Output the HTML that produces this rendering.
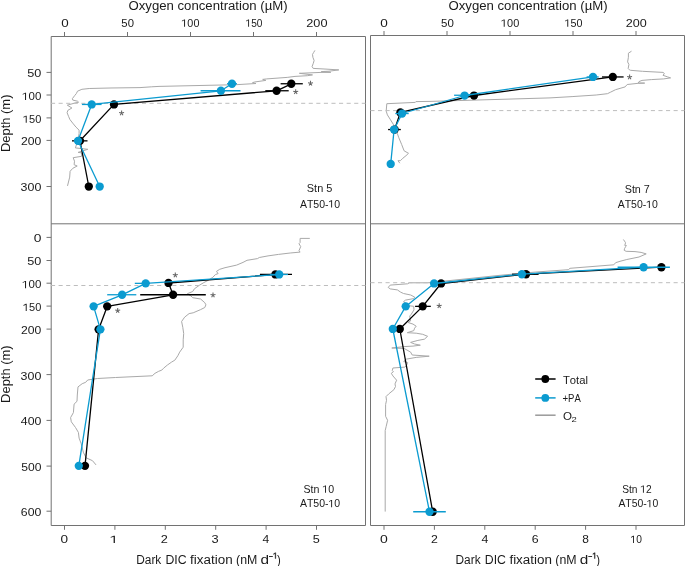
<!DOCTYPE html>
<html><head><meta charset="utf-8"><style>
html,body{margin:0;padding:0;background:#fff;}
svg{display:block;will-change:transform;}
text{font-family:"Liberation Sans", sans-serif;font-kerning:none;}
</style></head><body>
<svg width="685" height="566" viewBox="0 0 685 566">
<rect width="685" height="566" fill="#fff"/>
<path d="M51.2,36.5H365.5V525.5H51.2Z M51.2,223.8H365.5" fill="none" stroke="#727272" stroke-width="1"/>
<path d="M370.5,35.5H684.5V525.5H370.5Z M370.5,223.8H684.5" fill="none" stroke="#727272" stroke-width="1"/>
<line x1="64.50" y1="32.00" x2="64.50" y2="36.50" stroke="#727272" stroke-width="1" />
<line x1="127.50" y1="32.00" x2="127.50" y2="36.50" stroke="#727272" stroke-width="1" />
<line x1="190.50" y1="32.00" x2="190.50" y2="36.50" stroke="#727272" stroke-width="1" />
<line x1="253.50" y1="32.00" x2="253.50" y2="36.50" stroke="#727272" stroke-width="1" />
<line x1="316.50" y1="32.00" x2="316.50" y2="36.50" stroke="#727272" stroke-width="1" />
<line x1="384.00" y1="31.00" x2="384.00" y2="35.50" stroke="#727272" stroke-width="1" />
<line x1="447.00" y1="31.00" x2="447.00" y2="35.50" stroke="#727272" stroke-width="1" />
<line x1="510.00" y1="31.00" x2="510.00" y2="35.50" stroke="#727272" stroke-width="1" />
<line x1="573.00" y1="31.00" x2="573.00" y2="35.50" stroke="#727272" stroke-width="1" />
<line x1="636.00" y1="31.00" x2="636.00" y2="35.50" stroke="#727272" stroke-width="1" />
<line x1="64.50" y1="525.50" x2="64.50" y2="529.80" stroke="#727272" stroke-width="1" />
<line x1="114.90" y1="525.50" x2="114.90" y2="529.80" stroke="#727272" stroke-width="1" />
<line x1="165.30" y1="525.50" x2="165.30" y2="529.80" stroke="#727272" stroke-width="1" />
<line x1="215.70" y1="525.50" x2="215.70" y2="529.80" stroke="#727272" stroke-width="1" />
<line x1="266.10" y1="525.50" x2="266.10" y2="529.80" stroke="#727272" stroke-width="1" />
<line x1="316.50" y1="525.50" x2="316.50" y2="529.80" stroke="#727272" stroke-width="1" />
<line x1="384.00" y1="525.50" x2="384.00" y2="529.80" stroke="#727272" stroke-width="1" />
<line x1="434.40" y1="525.50" x2="434.40" y2="529.80" stroke="#727272" stroke-width="1" />
<line x1="484.80" y1="525.50" x2="484.80" y2="529.80" stroke="#727272" stroke-width="1" />
<line x1="535.20" y1="525.50" x2="535.20" y2="529.80" stroke="#727272" stroke-width="1" />
<line x1="585.60" y1="525.50" x2="585.60" y2="529.80" stroke="#727272" stroke-width="1" />
<line x1="636.00" y1="525.50" x2="636.00" y2="529.80" stroke="#727272" stroke-width="1" />
<line x1="46.50" y1="72.40" x2="51.20" y2="72.40" stroke="#727272" stroke-width="1" />
<line x1="46.50" y1="95.00" x2="51.20" y2="95.00" stroke="#727272" stroke-width="1" />
<line x1="46.50" y1="117.90" x2="51.20" y2="117.90" stroke="#727272" stroke-width="1" />
<line x1="46.50" y1="140.40" x2="51.20" y2="140.40" stroke="#727272" stroke-width="1" />
<line x1="46.50" y1="186.50" x2="51.20" y2="186.50" stroke="#727272" stroke-width="1" />
<line x1="46.50" y1="237.40" x2="51.20" y2="237.40" stroke="#727272" stroke-width="1" />
<line x1="46.50" y1="260.50" x2="51.20" y2="260.50" stroke="#727272" stroke-width="1" />
<line x1="46.50" y1="283.20" x2="51.20" y2="283.20" stroke="#727272" stroke-width="1" />
<line x1="46.50" y1="306.10" x2="51.20" y2="306.10" stroke="#727272" stroke-width="1" />
<line x1="46.50" y1="329.10" x2="51.20" y2="329.10" stroke="#727272" stroke-width="1" />
<line x1="46.50" y1="374.60" x2="51.20" y2="374.60" stroke="#727272" stroke-width="1" />
<line x1="46.50" y1="420.40" x2="51.20" y2="420.40" stroke="#727272" stroke-width="1" />
<line x1="46.50" y1="466.10" x2="51.20" y2="466.10" stroke="#727272" stroke-width="1" />
<line x1="46.50" y1="511.20" x2="51.20" y2="511.20" stroke="#727272" stroke-width="1" />
<text x="61.18" y="26.70" font-size="10.5" textLength="7.45" lengthAdjust="spacingAndGlyphs" fill="#1a1a1a" >0</text>
<text x="121.35" y="26.70" font-size="10.5" textLength="12.60" lengthAdjust="spacingAndGlyphs" fill="#1a1a1a" >50</text>
<text x="181.37" y="26.70" font-size="10.5" textLength="18.05" lengthAdjust="spacingAndGlyphs" fill="#1a1a1a" > 00</text>
<path d="M184.09,26.70 L184.09,20.36 L181.90,21.57 L181.90,20.70 L184.17,19.48 L185.05,19.48 L185.05,26.70Z" fill="#1a1a1a"/>
<text x="245.61" y="26.70" font-size="10.5" textLength="16.89" lengthAdjust="spacingAndGlyphs" fill="#1a1a1a" > 50</text>
<path d="M248.15,26.70 L248.15,20.36 L246.10,21.57 L246.10,20.70 L248.23,19.48 L249.05,19.48 L249.05,26.70Z" fill="#1a1a1a"/>
<text x="306.26" y="26.70" font-size="10.5" textLength="21.24" lengthAdjust="spacingAndGlyphs" fill="#1a1a1a" >200</text>
<text x="380.27" y="26.70" font-size="10.5" textLength="7.56" lengthAdjust="spacingAndGlyphs" fill="#1a1a1a" >0</text>
<text x="441.14" y="26.70" font-size="10.5" textLength="12.81" lengthAdjust="spacingAndGlyphs" fill="#1a1a1a" >50</text>
<text x="500.97" y="26.70" font-size="10.5" textLength="18.26" lengthAdjust="spacingAndGlyphs" fill="#1a1a1a" > 00</text>
<path d="M503.72,26.70 L503.72,20.36 L501.50,21.57 L501.50,20.70 L503.80,19.48 L504.69,19.48 L504.69,26.70Z" fill="#1a1a1a"/>
<text x="564.57" y="26.70" font-size="10.5" textLength="17.95" lengthAdjust="spacingAndGlyphs" fill="#1a1a1a" > 50</text>
<path d="M567.28,26.70 L567.28,20.36 L565.10,21.57 L565.10,20.70 L567.36,19.48 L568.23,19.48 L568.23,26.70Z" fill="#1a1a1a"/>
<text x="625.87" y="26.70" font-size="10.5" textLength="21.03" lengthAdjust="spacingAndGlyphs" fill="#1a1a1a" >200</text>
<text x="60.57" y="543.00" font-size="10.5" textLength="7.56" lengthAdjust="spacingAndGlyphs" fill="#1a1a1a" >0</text>
<path d="M113.62,543.00 L113.62,536.66 L110.70,537.87 L110.70,537.00 L113.73,535.78 L114.90,535.78 L114.90,543.00Z" fill="#1a1a1a"/>
<text x="160.66" y="543.00" font-size="10.5" textLength="7.08" lengthAdjust="spacingAndGlyphs" fill="#1a1a1a" >2</text>
<text x="211.51" y="543.00" font-size="10.5" textLength="7.16" lengthAdjust="spacingAndGlyphs" fill="#1a1a1a" >3</text>
<text x="262.52" y="543.00" font-size="10.5" textLength="6.73" lengthAdjust="spacingAndGlyphs" fill="#1a1a1a" >4</text>
<text x="312.69" y="543.00" font-size="10.5" textLength="7.04" lengthAdjust="spacingAndGlyphs" fill="#1a1a1a" >5</text>
<text x="380.05" y="543.00" font-size="10.5" textLength="7.79" lengthAdjust="spacingAndGlyphs" fill="#1a1a1a" >0</text>
<text x="430.98" y="543.00" font-size="10.5" textLength="6.84" lengthAdjust="spacingAndGlyphs" fill="#1a1a1a" >2</text>
<text x="481.52" y="543.00" font-size="10.5" textLength="6.84" lengthAdjust="spacingAndGlyphs" fill="#1a1a1a" >4</text>
<text x="531.77" y="543.00" font-size="10.5" textLength="6.87" lengthAdjust="spacingAndGlyphs" fill="#1a1a1a" >6</text>
<text x="582.28" y="543.00" font-size="10.5" textLength="6.64" lengthAdjust="spacingAndGlyphs" fill="#1a1a1a" >8</text>
<text x="630.50" y="543.00" font-size="10.5" textLength="11.40" lengthAdjust="spacingAndGlyphs" fill="#1a1a1a" > 0</text>
<path d="M633.08,543.00 L633.08,536.66 L631.00,537.87 L631.00,537.00 L633.15,535.78 L633.98,535.78 L633.98,543.00Z" fill="#1a1a1a"/>
<text x="27.29" y="77.35" font-size="10.5" textLength="14.10" lengthAdjust="spacingAndGlyphs" fill="#1a1a1a" >50</text>
<text x="22.14" y="99.95" font-size="10.5" textLength="19.21" lengthAdjust="spacingAndGlyphs" fill="#1a1a1a" > 00</text>
<path d="M25.03,99.95 L25.03,93.61 L22.70,94.82 L22.70,93.95 L25.12,92.73 L26.05,92.73 L26.05,99.95Z" fill="#1a1a1a"/>
<text x="22.96" y="122.85" font-size="10.5" textLength="18.37" lengthAdjust="spacingAndGlyphs" fill="#1a1a1a" > 50</text>
<path d="M25.73,122.85 L25.73,116.51 L23.50,117.72 L23.50,116.85 L25.81,115.63 L26.70,115.63 L26.70,122.85Z" fill="#1a1a1a"/>
<text x="21.09" y="145.35" font-size="10.5" textLength="20.29" lengthAdjust="spacingAndGlyphs" fill="#1a1a1a" >200</text>
<text x="20.63" y="191.45" font-size="10.5" textLength="20.76" lengthAdjust="spacingAndGlyphs" fill="#1a1a1a" >300</text>
<text x="33.76" y="242.35" font-size="10.5" textLength="7.68" lengthAdjust="spacingAndGlyphs" fill="#1a1a1a" >0</text>
<text x="27.29" y="265.45" font-size="10.5" textLength="14.10" lengthAdjust="spacingAndGlyphs" fill="#1a1a1a" >50</text>
<text x="22.14" y="288.15" font-size="10.5" textLength="19.21" lengthAdjust="spacingAndGlyphs" fill="#1a1a1a" > 00</text>
<path d="M25.03,288.15 L25.03,281.81 L22.70,283.02 L22.70,282.15 L25.12,280.93 L26.05,280.93 L26.05,288.15Z" fill="#1a1a1a"/>
<text x="22.96" y="311.05" font-size="10.5" textLength="18.37" lengthAdjust="spacingAndGlyphs" fill="#1a1a1a" > 50</text>
<path d="M25.73,311.05 L25.73,304.71 L23.50,305.92 L23.50,305.05 L25.81,303.83 L26.70,303.83 L26.70,311.05Z" fill="#1a1a1a"/>
<text x="21.09" y="334.05" font-size="10.5" textLength="20.29" lengthAdjust="spacingAndGlyphs" fill="#1a1a1a" >200</text>
<text x="20.63" y="379.55" font-size="10.5" textLength="20.76" lengthAdjust="spacingAndGlyphs" fill="#1a1a1a" >300</text>
<text x="20.82" y="425.35" font-size="10.5" textLength="20.56" lengthAdjust="spacingAndGlyphs" fill="#1a1a1a" >400</text>
<text x="21.22" y="471.05" font-size="10.5" textLength="20.16" lengthAdjust="spacingAndGlyphs" fill="#1a1a1a" >500</text>
<text x="20.88" y="516.15" font-size="10.5" textLength="20.50" lengthAdjust="spacingAndGlyphs" fill="#1a1a1a" >600</text>
<text x="128.48" y="9.90" font-size="12.5" textLength="159.14" lengthAdjust="spacingAndGlyphs" fill="#1a1a1a" >Oxygen concentration (µM)</text>
<text x="448.48" y="9.90" font-size="12.5" textLength="159.14" lengthAdjust="spacingAndGlyphs" fill="#1a1a1a" >Oxygen concentration (µM)</text>
<text x="136.23" y="563.50" font-size="12.5" textLength="25.06" lengthAdjust="spacingAndGlyphs" fill="#1a1a1a" >Dark</text>
<text x="165.49" y="563.50" font-size="12.5" textLength="21.18" lengthAdjust="spacingAndGlyphs" fill="#1a1a1a" >DIC</text>
<text x="190.11" y="563.50" font-size="12.5" textLength="42.56" lengthAdjust="spacingAndGlyphs" fill="#1a1a1a" >fixation</text>
<text x="236.03" y="563.50" font-size="12.5" textLength="21.28" lengthAdjust="spacingAndGlyphs" fill="#1a1a1a" >(nM</text>
<text x="260.56" y="563.50" font-size="12.5" textLength="8.53" lengthAdjust="spacingAndGlyphs" fill="#1a1a1a" >d</text>
<line x1="269.00" y1="556.50" x2="272.80" y2="556.50" stroke="#1a1a1a" stroke-width="0.9" />
<path d="M275.13,558.60 L275.13,553.47 L273.60,554.45 L273.60,553.74 L275.19,552.75 L275.80,552.75 L275.80,558.60Z" fill="#1a1a1a" stroke="#1a1a1a" stroke-width="0.35"/>
<text x="276.93" y="563.50" font-size="12.5" textLength="3.77" lengthAdjust="spacingAndGlyphs" fill="#1a1a1a" >)</text>
<text x="455.53" y="563.50" font-size="12.5" textLength="25.06" lengthAdjust="spacingAndGlyphs" fill="#1a1a1a" >Dark</text>
<text x="484.79" y="563.50" font-size="12.5" textLength="21.18" lengthAdjust="spacingAndGlyphs" fill="#1a1a1a" >DIC</text>
<text x="509.41" y="563.50" font-size="12.5" textLength="42.56" lengthAdjust="spacingAndGlyphs" fill="#1a1a1a" >fixation</text>
<text x="555.33" y="563.50" font-size="12.5" textLength="21.28" lengthAdjust="spacingAndGlyphs" fill="#1a1a1a" >(nM</text>
<text x="579.86" y="563.50" font-size="12.5" textLength="8.53" lengthAdjust="spacingAndGlyphs" fill="#1a1a1a" >d</text>
<line x1="588.30" y1="556.50" x2="592.10" y2="556.50" stroke="#1a1a1a" stroke-width="0.9" />
<path d="M594.43,558.60 L594.43,553.47 L592.90,554.45 L592.90,553.74 L594.49,552.75 L595.10,552.75 L595.10,558.60Z" fill="#1a1a1a" stroke="#1a1a1a" stroke-width="0.35"/>
<text x="596.23" y="563.50" font-size="12.5" textLength="3.77" lengthAdjust="spacingAndGlyphs" fill="#1a1a1a" >)</text>
<text transform="translate(9.6,151.05) rotate(-90)" x="-1.06" y="0" font-size="12.5" textLength="57.57" lengthAdjust="spacingAndGlyphs" fill="#1a1a1a">Depth (m)</text>
<text transform="translate(9.6,401.85) rotate(-90)" x="-1.06" y="0" font-size="12.5" textLength="57.57" lengthAdjust="spacingAndGlyphs" fill="#1a1a1a">Depth (m)</text>
<text x="306.80" y="192.40" font-size="10.5" textLength="25.56" lengthAdjust="spacingAndGlyphs" fill="#1a1a1a" >Stn 5</text>
<text x="299.88" y="207.50" font-size="10.5" textLength="40.33" lengthAdjust="spacingAndGlyphs" fill="#1a1a1a" >AT50- 0</text>
<path d="M331.16,207.50 L331.16,201.16 L329.03,202.37 L329.03,201.50 L331.24,200.28 L332.09,200.28 L332.09,207.50Z" fill="#1a1a1a"/>
<text x="624.71" y="192.90" font-size="10.5" textLength="25.13" lengthAdjust="spacingAndGlyphs" fill="#1a1a1a" >Stn 7</text>
<text x="617.68" y="208.00" font-size="10.5" textLength="40.23" lengthAdjust="spacingAndGlyphs" fill="#1a1a1a" >AT50- 0</text>
<path d="M648.88,208.00 L648.88,201.66 L646.75,202.87 L646.75,202.00 L648.96,200.78 L649.81,200.78 L649.81,208.00Z" fill="#1a1a1a"/>
<text x="303.52" y="492.70" font-size="10.5" textLength="30.70" lengthAdjust="spacingAndGlyphs" fill="#1a1a1a" >Stn  0</text>
<path d="M325.07,492.70 L325.07,486.36 L322.92,487.57 L322.92,486.70 L325.15,485.48 L326.01,485.48 L326.01,492.70Z" fill="#1a1a1a"/>
<text x="299.88" y="507.20" font-size="10.5" textLength="40.33" lengthAdjust="spacingAndGlyphs" fill="#1a1a1a" >AT50- 0</text>
<path d="M331.16,507.20 L331.16,500.86 L329.03,502.07 L329.03,501.20 L331.24,499.98 L332.09,499.98 L332.09,507.20Z" fill="#1a1a1a"/>
<text x="622.24" y="492.70" font-size="10.5" textLength="29.48" lengthAdjust="spacingAndGlyphs" fill="#1a1a1a" >Stn  2</text>
<path d="M642.94,492.70 L642.94,486.36 L640.87,487.57 L640.87,486.70 L643.01,485.48 L643.84,485.48 L643.84,492.70Z" fill="#1a1a1a"/>
<text x="618.38" y="507.20" font-size="10.5" textLength="40.03" lengthAdjust="spacingAndGlyphs" fill="#1a1a1a" >AT50- 0</text>
<path d="M649.42,507.20 L649.42,500.86 L647.31,502.07 L647.31,501.20 L649.50,499.98 L650.35,499.98 L650.35,507.20Z" fill="#1a1a1a"/>
<polyline points="314.9,50.4 313.7,52.4 312.5,54.4 312.9,57.3 314.1,60.5 313.3,63.3 312.1,66.5 313.2,68.4 326.0,69.1 338.8,69.9 329.0,71.2 321.3,71.6 330.8,72.3 321.0,72.4 299.4,73.3 312.5,74.9 307.4,75.7 295.0,76.4 287.2,77.4 266.8,78.9 262.7,79.4 265.8,80.4 254.5,82.0 252.5,82.7 256.0,83.5 236.1,84.7 159.0,86.4 151.7,86.8 140.0,87.6 110.0,88.0 89.2,88.5 81.9,89.3 77.5,91.2 76.4,93.5 74.6,95.7 72.4,98.6 72.8,100.1 77.5,101.2 78.6,102.2 74.6,103.1 67.3,105.2 71.9,108.0 67.9,110.3 67.1,112.7 68.7,116.7 69.9,119.5 72.7,123.1 75.9,127.0 79.1,130.2 79.1,133.4 78.0,140.0 75.4,147.9 87.8,149.3 78.1,152.4 81.6,152.8 81.6,156.3 73.2,157.7 74.5,161.2 74.1,164.7 77.2,166.0 72.8,168.3 70.1,171.3 69.7,177.1 67.5,185.9" fill="none" stroke="#a9a9a9" stroke-width="1" stroke-linejoin="round" />
<polyline points="631.5,51.2 628.4,53.2 628.4,57.3 627.6,61.9 628.9,64.4 628.2,68.5 629.4,69.8 630.5,70.3 642.5,71.3 663.0,72.4 664.4,73.5 663.0,75.3 667.3,76.8 670.6,77.9 663.7,78.9 651.3,79.6 642.0,80.4 639.0,81.6 638.2,83.0 644.7,83.1 638.2,83.3 627.2,84.5 625.1,86.9 615.5,89.7 610.7,92.1 607.4,93.7 596.2,95.0 572.1,96.6 550.0,97.9 430.0,101.4 415.9,101.6 415.3,102.4 386.8,103.7 386.2,111.1 387.4,114.9 390.5,119.8 393.6,124.8 397.3,133.4 398.6,137.2 401.7,144.6 404.1,150.8 408.5,153.3 406.0,155.7 402.9,158.2 400.4,160.7 398.0,160.7 399.8,163.2" fill="none" stroke="#a9a9a9" stroke-width="1" stroke-linejoin="round" />
<polyline points="309.8,238.4 300.1,238.4 300.1,242.5 299.0,243.7 300.7,246.6 299.0,250.7 300.1,252.1 290.2,253.0 278.5,254.4 268.0,255.9 259.3,257.5 257.5,258.6 247.0,260.3 243.0,262.4 236.6,265.1 225.0,267.7 219.7,269.3 216.5,271.4 218.1,273.6 215.4,274.6 212.8,277.3 208.0,280.4 203.8,282.6 199.5,285.2 194.4,288.8 192.7,291.5 187.4,293.7 190.9,295.9 192.7,297.7 200.6,299.0 204.8,302.7 205.9,304.8 204.8,307.5 200.6,309.6 193.2,312.8 189.1,313.6 184.7,317.1 181.6,321.5 182.8,327.4 183.7,333.6 183.2,339.8 183.2,347.2 179.7,352.1 177.8,355.8 174.8,360.2 171.7,362.0 167.3,365.1 163.6,368.2 161.8,370.1 158.7,371.3 155.0,373.3 152.2,375.8 115.5,377.5 97.4,378.5 87.7,380.0 85.7,382.3 82.2,383.7 78.0,386.9 77.3,395.0 77.0,401.3 74.1,404.1 73.4,412.6 70.6,417.6 71.3,421.8 75.5,427.5 78.4,432.4 79.1,438.1 81.2,443.7 83.3,452.2 86.1,457.8 92.5,460.7 96.0,464.9" fill="none" stroke="#a9a9a9" stroke-width="1" stroke-linejoin="round" />
<polyline points="623.4,239.5 624.5,241.1 625.5,242.7 625.2,244.3 624.5,245.2 626.4,245.5 625.5,246.8 624.5,248.7 624.2,250.3 626.1,251.3 635.0,251.6 641.1,252.4 646.2,253.9 639.0,257.0 626.8,259.5 620.0,261.3 615.6,262.7 613.8,264.8 570.0,268.3 568.3,269.7 535.0,272.1 500.0,275.3 460.0,279.5 428.0,282.8 409.6,282.8 407.6,283.8 390.2,285.1 388.2,287.4 390.2,288.9 397.4,289.9 400.4,292.0 403.5,293.5 410.7,295.0 414.7,297.1 413.7,298.6 405.5,300.1 403.5,301.7 409.6,305.8 413.7,306.3 414.0,309.9 410.9,314.8 409.7,316.0 410.6,320.9 408.1,322.5 413.0,324.1 416.2,326.2 414.6,328.2 413.8,330.6 407.3,332.7 416.2,333.2 422.7,334.3 427.6,336.3 424.4,339.2 417.9,340.4 410.6,342.4 414.6,344.0 420.3,345.2 413.0,346.1 404.1,346.6 391.8,348.0 404.2,348.4 406.0,349.5 410.6,352.1 412.2,355.0 429.2,356.2 416.2,357.4 406.5,359.1 403.7,361.5 407.6,362.6 406.5,365.5 404.8,367.1 392.9,368.0 392.3,370.6 393.4,371.7 391.3,373.3 392.9,375.9 396.6,380.2 395.0,383.9 395.5,386.5 393.9,389.7 388.6,394.0 386.0,396.6 386.5,400.3 385.6,404.6 385.6,416.3 387.6,420.3 386.2,426.4 385.2,430.5 385.2,511.6" fill="none" stroke="#a9a9a9" stroke-width="1" stroke-linejoin="round" />
<line x1="51.00" y1="103.30" x2="365.50" y2="103.30" stroke="#bdbdbd" stroke-width="1" stroke-dasharray="4.1 3.48"/>
<line x1="370.40" y1="110.60" x2="684.50" y2="110.60" stroke="#bdbdbd" stroke-width="1" stroke-dasharray="4.1 3.48"/>
<line x1="51.00" y1="285.50" x2="365.50" y2="285.50" stroke="#bdbdbd" stroke-width="1" stroke-dasharray="4.1 3.48"/>
<line x1="370.40" y1="282.70" x2="684.50" y2="282.70" stroke="#bdbdbd" stroke-width="1" stroke-dasharray="4.1 3.48"/>
<line x1="280.60" y1="83.75" x2="302.80" y2="83.75" stroke="#000" stroke-width="1.3" />
<line x1="265.30" y1="90.75" x2="288.70" y2="90.75" stroke="#000" stroke-width="1.3" />
<line x1="72.00" y1="140.85" x2="87.50" y2="140.85" stroke="#000" stroke-width="1.3" />
<polyline points="291.3,83.8 276.6,90.8 114.0,104.4 80.0,140.8 88.8,186.5" fill="none" stroke="#000" stroke-width="1.3" stroke-linejoin="round" />
<circle cx="291.30" cy="83.75" r="4.15" fill="#000"/>
<circle cx="276.60" cy="90.75" r="4.15" fill="#000"/>
<circle cx="114.00" cy="104.45" r="4.15" fill="#000"/>
<circle cx="80.00" cy="140.85" r="4.15" fill="#000"/>
<circle cx="88.80" cy="186.55" r="4.15" fill="#000"/>
<line x1="227.00" y1="83.75" x2="237.00" y2="83.75" stroke="#0b9bd0" stroke-width="1.3" />
<line x1="200.60" y1="90.75" x2="240.50" y2="90.75" stroke="#0b9bd0" stroke-width="1.3" />
<line x1="81.90" y1="104.45" x2="101.60" y2="104.45" stroke="#0b9bd0" stroke-width="1.3" />
<polyline points="232.0,83.8 220.9,90.8 91.7,104.4 78.0,140.8 99.7,186.5" fill="none" stroke="#0b9bd0" stroke-width="1.3" stroke-linejoin="round" />
<circle cx="232.00" cy="83.75" r="4.15" fill="#0b9bd0"/>
<circle cx="220.90" cy="90.75" r="4.15" fill="#0b9bd0"/>
<circle cx="91.70" cy="104.45" r="4.15" fill="#0b9bd0"/>
<circle cx="78.00" cy="140.85" r="4.15" fill="#0b9bd0"/>
<circle cx="99.70" cy="186.55" r="4.15" fill="#0b9bd0"/>
<line x1="602.00" y1="76.95" x2="623.60" y2="76.95" stroke="#000" stroke-width="1.3" />
<line x1="388.10" y1="129.55" x2="400.80" y2="129.55" stroke="#000" stroke-width="1.3" />
<polyline points="612.8,76.9 474.0,95.5 400.4,112.4 394.6,129.5" fill="none" stroke="#000" stroke-width="1.3" stroke-linejoin="round" />
<circle cx="612.80" cy="76.95" r="4.15" fill="#000"/>
<circle cx="474.00" cy="95.55" r="4.15" fill="#000"/>
<circle cx="400.40" cy="112.45" r="4.15" fill="#000"/>
<circle cx="394.60" cy="129.55" r="4.15" fill="#000"/>
<line x1="586.60" y1="76.95" x2="598.70" y2="76.95" stroke="#0b9bd0" stroke-width="1.3" />
<line x1="454.10" y1="95.25" x2="470.00" y2="95.25" stroke="#0b9bd0" stroke-width="1.3" />
<line x1="395.30" y1="113.55" x2="408.70" y2="113.55" stroke="#0b9bd0" stroke-width="1.3" />
<polyline points="593.0,76.9 464.6,95.5 402.1,113.5 394.1,129.5 390.7,163.9" fill="none" stroke="#0b9bd0" stroke-width="1.3" stroke-linejoin="round" />
<circle cx="593.00" cy="76.95" r="4.15" fill="#0b9bd0"/>
<circle cx="464.60" cy="95.55" r="4.15" fill="#0b9bd0"/>
<circle cx="402.10" cy="113.55" r="4.15" fill="#0b9bd0"/>
<circle cx="394.10" cy="129.55" r="4.15" fill="#0b9bd0"/>
<circle cx="390.70" cy="163.95" r="4.15" fill="#0b9bd0"/>
<line x1="259.90" y1="274.45" x2="292.00" y2="274.45" stroke="#000" stroke-width="1.3" />
<line x1="140.20" y1="294.75" x2="205.80" y2="294.75" stroke="#000" stroke-width="1.3" />
<polyline points="275.4,274.5 168.5,283.0 173.1,294.8 107.2,306.4 98.6,329.4 85.0,465.9" fill="none" stroke="#000" stroke-width="1.3" stroke-linejoin="round" />
<circle cx="275.40" cy="274.45" r="4.15" fill="#000"/>
<circle cx="168.50" cy="282.95" r="4.15" fill="#000"/>
<circle cx="173.10" cy="294.75" r="4.15" fill="#000"/>
<circle cx="107.20" cy="306.35" r="4.15" fill="#000"/>
<circle cx="98.60" cy="329.35" r="4.15" fill="#000"/>
<circle cx="85.00" cy="465.85" r="4.15" fill="#000"/>
<line x1="270.00" y1="274.45" x2="288.00" y2="274.45" stroke="#0b9bd0" stroke-width="1.3" />
<line x1="134.80" y1="283.35" x2="150.00" y2="283.35" stroke="#0b9bd0" stroke-width="1.3" />
<line x1="107.20" y1="294.75" x2="136.30" y2="294.75" stroke="#0b9bd0" stroke-width="1.3" />
<polyline points="279.2,274.5 145.7,283.4 122.1,294.8 93.6,306.4 100.4,329.4 78.8,465.9" fill="none" stroke="#0b9bd0" stroke-width="1.3" stroke-linejoin="round" />
<circle cx="279.20" cy="274.45" r="4.15" fill="#0b9bd0"/>
<circle cx="145.70" cy="283.35" r="4.15" fill="#0b9bd0"/>
<circle cx="122.10" cy="294.75" r="4.15" fill="#0b9bd0"/>
<circle cx="93.60" cy="306.35" r="4.15" fill="#0b9bd0"/>
<circle cx="100.40" cy="329.35" r="4.15" fill="#0b9bd0"/>
<circle cx="78.80" cy="465.85" r="4.15" fill="#0b9bd0"/>
<line x1="415.10" y1="306.35" x2="430.80" y2="306.35" stroke="#000" stroke-width="1.3" />
<line x1="512.00" y1="274.25" x2="538.60" y2="274.25" stroke="#000" stroke-width="1.3" />
<polyline points="661.4,267.2 526.0,274.2 441.1,283.5 422.7,306.4 399.8,329.0 432.7,511.8" fill="none" stroke="#000" stroke-width="1.3" stroke-linejoin="round" />
<circle cx="661.40" cy="267.25" r="4.15" fill="#000"/>
<circle cx="526.00" cy="274.25" r="4.15" fill="#000"/>
<circle cx="441.10" cy="283.45" r="4.15" fill="#000"/>
<circle cx="422.70" cy="306.35" r="4.15" fill="#000"/>
<circle cx="399.80" cy="328.95" r="4.15" fill="#000"/>
<circle cx="432.70" cy="511.75" r="4.15" fill="#000"/>
<line x1="617.60" y1="267.25" x2="669.90" y2="267.25" stroke="#0b9bd0" stroke-width="1.3" />
<line x1="413.20" y1="511.75" x2="445.80" y2="511.75" stroke="#0b9bd0" stroke-width="1.3" />
<polyline points="643.6,267.2 521.9,274.2 434.1,283.5 405.7,306.4 392.8,329.0 429.5,511.8" fill="none" stroke="#0b9bd0" stroke-width="1.3" stroke-linejoin="round" />
<circle cx="643.60" cy="267.25" r="4.15" fill="#0b9bd0"/>
<circle cx="521.90" cy="274.25" r="4.15" fill="#0b9bd0"/>
<circle cx="434.10" cy="283.45" r="4.15" fill="#0b9bd0"/>
<circle cx="405.70" cy="306.35" r="4.15" fill="#0b9bd0"/>
<circle cx="392.80" cy="328.95" r="4.15" fill="#0b9bd0"/>
<circle cx="429.50" cy="511.75" r="4.15" fill="#0b9bd0"/>
<path d="M310.50,83.30L310.50,80.80M310.50,83.30L313.00,82.80M310.50,83.30L308.00,82.80M310.50,83.30L311.90,85.60M310.50,83.30L309.10,85.60" stroke="#666" stroke-width="1.05" stroke-linecap="butt" fill="none"/>
<path d="M295.70,91.80L295.70,89.30M295.70,91.80L298.20,91.30M295.70,91.80L293.20,91.30M295.70,91.80L297.10,94.10M295.70,91.80L294.30,94.10" stroke="#666" stroke-width="1.05" stroke-linecap="butt" fill="none"/>
<path d="M121.60,113.00L121.60,110.50M121.60,113.00L124.10,112.50M121.60,113.00L119.10,112.50M121.60,113.00L123.00,115.30M121.60,113.00L120.20,115.30" stroke="#666" stroke-width="1.05" stroke-linecap="butt" fill="none"/>
<path d="M629.60,77.00L629.60,74.50M629.60,77.00L632.10,76.50M629.60,77.00L627.10,76.50M629.60,77.00L631.00,79.30M629.60,77.00L628.20,79.30" stroke="#666" stroke-width="1.05" stroke-linecap="butt" fill="none"/>
<path d="M175.30,275.00L175.30,272.50M175.30,275.00L177.80,274.50M175.30,275.00L172.80,274.50M175.30,275.00L176.70,277.30M175.30,275.00L173.90,277.30" stroke="#666" stroke-width="1.05" stroke-linecap="butt" fill="none"/>
<path d="M213.00,295.00L213.00,292.50M213.00,295.00L215.50,294.50M213.00,295.00L210.50,294.50M213.00,295.00L214.40,297.30M213.00,295.00L211.60,297.30" stroke="#666" stroke-width="1.05" stroke-linecap="butt" fill="none"/>
<path d="M117.70,310.50L117.70,308.00M117.70,310.50L120.20,310.00M117.70,310.50L115.20,310.00M117.70,310.50L119.10,312.80M117.70,310.50L116.30,312.80" stroke="#666" stroke-width="1.05" stroke-linecap="butt" fill="none"/>
<path d="M439.20,305.70L439.20,303.20M439.20,305.70L441.70,305.20M439.20,305.70L436.70,305.20M439.20,305.70L440.60,308.00M439.20,305.70L437.80,308.00" stroke="#666" stroke-width="1.05" stroke-linecap="butt" fill="none"/>
<line x1="535.20" y1="379.00" x2="555.60" y2="379.00" stroke="#000" stroke-width="1.5" />
<circle cx="545.30" cy="379.00" r="3.9" fill="#000"/>
<line x1="535.20" y1="397.90" x2="555.60" y2="397.90" stroke="#0b9bd0" stroke-width="1.5" />
<circle cx="545.30" cy="397.90" r="3.9" fill="#0b9bd0"/>
<line x1="535.20" y1="415.20" x2="555.60" y2="415.20" stroke="#999" stroke-width="1.5" />
<text x="562.95" y="383.50" font-size="10.5" textLength="25.01" lengthAdjust="spacingAndGlyphs" fill="#1a1a1a" >Total</text>
<text x="562.53" y="401.70" font-size="10.5" textLength="5.65" lengthAdjust="spacingAndGlyphs" fill="#1a1a1a" >+</text>
<text x="568.12" y="401.70" font-size="10.5" textLength="12.70" lengthAdjust="spacingAndGlyphs" fill="#1a1a1a" >PA</text>
<text x="562.95" y="419.90" font-size="10.5" textLength="9.00" lengthAdjust="spacingAndGlyphs" fill="#1a1a1a" >O</text>
<text x="571.53" y="422.00" font-size="8" textLength="5.25" lengthAdjust="spacingAndGlyphs" fill="#1a1a1a" >2</text>
</svg>
</body></html>
